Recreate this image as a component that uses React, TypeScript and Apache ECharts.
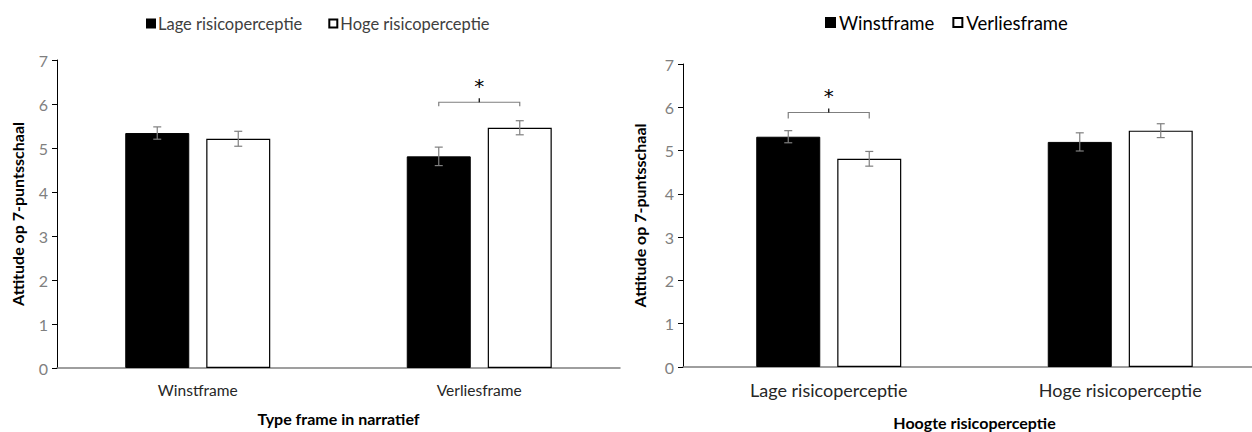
import React, { useEffect, useRef } from "react";
import * as echarts from "echarts";

const FONT = "Lato, 'Open Sans', sans-serif";

// Left chart: x = frame type, series = risk perception
const leftCategories = ["Winstframe", "Verliesframe"];
const leftSeriesNames = ["Lage risicoperceptie", "Hoge risicoperceptie"];
const leftLageMeans = [5.34, 4.81];
const leftLageErr = [0.14, 0.21];
const leftHogeMeans = [5.21, 5.46];
const leftHogeErr = [0.17, 0.16];
const leftSig = [{ category: 1, level: 6.04 }];

// Right chart: x = risk perception, series = frame type
const rightCategories = ["Lage risicoperceptie", "Hoge risicoperceptie"];
const rightSeriesNames = ["Winstframe", "Verliesframe"];
const rightWinstMeans = [5.32, 5.2];
const rightWinstErr = [0.14, 0.21];
const rightVerliesMeans = [4.81, 5.46];
const rightVerliesErr = [0.17, 0.16];
const rightSig = [{ category: 0, level: 5.88 }];

const yMin = 0;
const yMax = 7;
const yInterval = 1;
const yName = "Attitude op 7-puntsschaal";
const leftXName = "Type frame in narratief";
const rightXName = "Hoogte risicoperceptie";

const BAR_W = 64;
const GAP = 17;
const OFFSET = (BAR_W + GAP) / 2;

function errorSeries(means: number[], errs: number[], sign: number, axisIdx: number) {
  return {
    type: "custom",
    xAxisIndex: axisIdx,
    yAxisIndex: axisIdx,
    z: 5,
    silent: true,
    data: means.map((m, i) => [i, m, errs[i]]),
    renderItem: (params: any, api: any) => {
      const cat = api.value(0);
      const mean = api.value(1);
      const err = api.value(2);
      const x = api.coord([cat, mean])[0] + sign * OFFSET;
      const yt = api.coord([cat, mean + err])[1];
      const yb = api.coord([cat, mean - err])[1];
      const style = { stroke: "#7f7f7f", lineWidth: 1.2 };
      return {
        type: "group",
        children: [
          { type: "line", shape: { x1: x, y1: yt, x2: x, y2: yb }, style },
          { type: "line", shape: { x1: x - 4, y1: yt, x2: x + 4, y2: yt }, style },
          { type: "line", shape: { x1: x - 4, y1: yb, x2: x + 4, y2: yb }, style },
        ],
      };
    },
  };
}

function sigSeries(sig: { category: number; level: number }[], axisIdx: number, hook: number) {
  return {
    type: "custom",
    xAxisIndex: axisIdx,
    yAxisIndex: axisIdx,
    z: 6,
    silent: true,
    data: sig.map((s) => [s.category, s.level]),
    renderItem: (params: any, api: any) => {
      const c = api.coord([api.value(0), api.value(1)]);
      const cx = c[0];
      const y = c[1];
      const x1 = cx - OFFSET;
      const x2 = cx + OFFSET;
      const style = { stroke: "#7f7f7f", lineWidth: 1.2, fill: "none" };
      return {
        type: "group",
        children: [
          {
            type: "polyline",
            shape: { points: [[x1, y + hook], [x1, y], [x2, y], [x2, y + hook]] },
            style,
          },
          { type: "line", shape: { x1: cx, y1: y, x2: cx, y2: y - 4 }, style: { stroke: "#000", lineWidth: 1.2 } },
          {
            type: "text",
            style: {
              x: cx,
              y: y - 6,
              text: "*",
              fill: "#000",
              font: `20px 'DejaVu Sans', sans-serif`,
              align: "center",
              verticalAlign: "bottom",
            },
          },
        ],
      };
    },
  };
}

function yAxis(gridIndex: number, nameGap: number) {
  return {
    type: "value",
    gridIndex,
    min: yMin,
    max: yMax,
    interval: yInterval,
    name: yName,
    nameLocation: "middle",
    nameGap,
    nameRotate: 90,
    nameTextStyle: { fontFamily: FONT, fontWeight: "bold", fontSize: 16, color: "#000" },
    axisLine: { show: true, lineStyle: { color: "#000", width: 1 } },
    axisTick: { show: true, length: 5, lineStyle: { color: "#000" } },
    axisLabel: { fontFamily: FONT, fontSize: 16, color: "#7f7f7f", margin: 9 },
    splitLine: { show: false },
  };
}

function xAxis(gridIndex: number, data: string[], name: string, nameGap: number, fontSize: number) {
  return {
    type: "category",
    gridIndex,
    data,
    name,
    nameLocation: "middle",
    nameGap,
    nameTextStyle: { fontFamily: FONT, fontWeight: "bold", fontSize: 16, color: "#000" },
    axisLine: { show: true, lineStyle: { color: "#7f7f7f", width: 1.5 } },
    axisTick: { show: false },
    axisLabel: { fontFamily: FONT, fontSize, color: "#262626", margin: 14 },
  };
}

export default function App() {
  const ref = useRef<HTMLDivElement>(null);
  useEffect(() => {
    document.body.style.margin = "0";
    if (!ref.current) return;
    const chart = echarts.init(ref.current, undefined, { renderer: "svg" });
    const barGap = `${(GAP / BAR_W) * 100}%`;
    chart.setOption({
      animation: false,
      backgroundColor: "#fff",
      legend: [
        {
          data: leftSeriesNames,
          left: 141,
          top: 10,
          itemWidth: 8,
          itemHeight: 8,
          itemGap: 26,
          icon: "rect",
          textStyle: { fontFamily: FONT, fontSize: 16.5, color: "#404040", padding: [0, 0, 0, -2] },
        },
        {
          data: rightSeriesNames,
          left: 820,
          top: 8,
          itemWidth: 9,
          itemHeight: 9,
          itemGap: 18,
          icon: "rect",
          textStyle: { fontFamily: FONT, fontSize: 18.5, color: "#000", padding: [0, 0, 0, -1] },
        },
      ],
      grid: [
        { left: 57, right: 1252 - 620, top: 60, height: 308, outerBoundsMode: "none" },
        { left: 683, right: -14, top: 64, height: 303, outerBoundsMode: "none" },
      ],
      xAxis: [
        xAxis(0, leftCategories, leftXName, 42, 15.5),
        xAxis(1, rightCategories, rightXName, 47, 18),
      ],
      yAxis: [yAxis(0, 32), yAxis(1, 36)],
      series: [
        {
          name: leftSeriesNames[0],
          type: "bar",
          xAxisIndex: 0,
          yAxisIndex: 0,
          barWidth: BAR_W,
          barGap,
          data: leftLageMeans,
          itemStyle: { color: "#000", borderColor: "#000", borderWidth: 1 },
        },
        {
          name: leftSeriesNames[1],
          type: "bar",
          xAxisIndex: 0,
          yAxisIndex: 0,
          barWidth: BAR_W,
          barGap,
          data: leftHogeMeans,
          itemStyle: { color: "#fff", borderColor: "#000", borderWidth: 1.2 },
        },
        errorSeries(leftLageMeans, leftLageErr, -1, 0),
        errorSeries(leftHogeMeans, leftHogeErr, 1, 0),
        sigSeries(leftSig, 0, 4),
        {
          name: rightSeriesNames[0],
          type: "bar",
          xAxisIndex: 1,
          yAxisIndex: 1,
          barWidth: BAR_W,
          barGap,
          data: rightWinstMeans,
          itemStyle: { color: "#000", borderColor: "#000", borderWidth: 1 },
        },
        {
          name: rightSeriesNames[1],
          type: "bar",
          xAxisIndex: 1,
          yAxisIndex: 1,
          barWidth: BAR_W,
          barGap,
          data: rightVerliesMeans,
          itemStyle: { color: "#fff", borderColor: "#000", borderWidth: 1.2 },
        },
        errorSeries(rightWinstMeans, rightWinstErr, -1, 1),
        errorSeries(rightVerliesMeans, rightVerliesErr, 1, 1),
        sigSeries(rightSig, 1, 6),
      ],
    });
    return () => chart.dispose();
  }, []);
  return <div ref={ref} style={{ width: 1252, height: 432 }} />;
}
